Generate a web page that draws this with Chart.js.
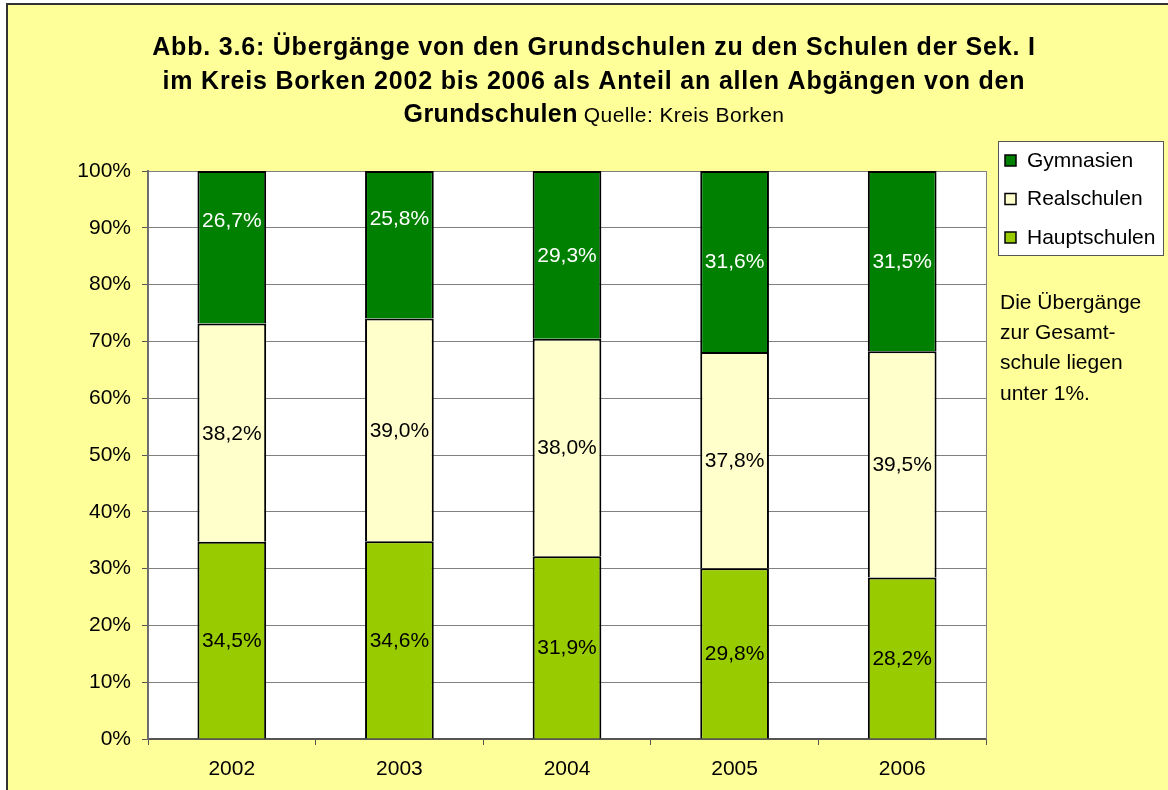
<!DOCTYPE html>
<html><head><meta charset="utf-8">
<script src="https://cdn.jsdelivr.net/npm/chart.js@4.4.1/dist/chart.umd.min.js"></script>
<style>html,body{margin:0;padding:0;background:#fff;}#wrap{width:1168px;height:790px;}</style>
</head><body><div id="wrap"><canvas id="c" width="1168" height="790"></canvas></div>
<script>
const years = ['2002', '2003', '2004', '2005', '2006'];
const hauptschulen = [34.5, 34.6, 31.9, 29.8, 28.2];
const realschulen = [38.2, 39.0, 38.0, 37.8, 39.5];
const gymnasien = [26.7, 25.8, 29.3, 31.6, 31.5];
const seriesNames = ['Hauptschulen', 'Realschulen', 'Gymnasien'];
const titleLines = [
  'Abb. 3.6: Übergänge von den Grundschulen zu den Schulen der Sek. I',
  'im Kreis Borken 2002 bis 2006 als Anteil an allen Abgängen von den'
];
const titleBoldTail = 'Grundschulen';
const titleSource = 'Quelle: Kreis Borken';
const noteLines = ['Die Übergänge', 'zur Gesamt-', 'schule liegen', 'unter 1%.'];

const FONT = '"Liberation Sans", Arial, Helvetica, sans-serif';
const totals = years.map((_, i) => hauptschulen[i] + realschulen[i] + gymnasien[i]);
const norm = arr => arr.map((v, i) => v / totals[i] * 100);
const raw = [hauptschulen, realschulen, gymnasien];
const colors = ['#99CC00', '#FFFFCC', '#008000'];
const labelColors = ['#000000', '#000000', '#FFFFFF'];
// label vertical shift (px) for the top series, as placed in the original
const topLabelShift = [-27, -27, 0, 0, 0];

const frame = {
  id: 'frame',
  beforeDraw(chart) {
    const ctx = chart.ctx, a = chart.chartArea;
    ctx.save();
    ctx.fillStyle = '#ffffff';
    ctx.fillRect(0, 0, chart.width, chart.height);
    ctx.fillStyle = '#FFFF99';
    ctx.fillRect(7, 4, chart.width, chart.height);
    ctx.strokeStyle = '#333333';
    ctx.lineWidth = 2;
    ctx.beginPath();
    ctx.moveTo(7, chart.height + 5); ctx.lineTo(7, 4); ctx.lineTo(chart.width + 5, 4);
    ctx.stroke();
    ctx.fillStyle = '#ffffff';
    ctx.fillRect(a.left, a.top, a.right - a.left, a.bottom - a.top);
    ctx.restore();
  },
  afterDraw(chart) {
    const ctx = chart.ctx, a = chart.chartArea;
    ctx.save();
    // plot right border
    ctx.strokeStyle = '#808080';
    ctx.lineWidth = 1;
    ctx.beginPath();
    ctx.moveTo(a.right + 0.5, a.top); ctx.lineTo(a.right + 0.5, a.bottom);
    ctx.stroke();
    // title
    ctx.fillStyle = '#000';
    ctx.textBaseline = 'middle';
    ctx.textAlign = 'left';
    const cx = 594;
    ctx.font = 'bold 25px ' + FONT;
    ctx.letterSpacing = '0.8px';
    const w1 = ctx.measureText(titleLines[0]).width;
    ctx.fillText(titleLines[0], cx - w1 / 2, 48);
    const w2 = ctx.measureText(titleLines[1]).width;
    ctx.fillText(titleLines[1], cx - w2 / 2, 82);
    ctx.letterSpacing = '0.4px';
    const wB = ctx.measureText(titleBoldTail).width;
    ctx.font = '21px ' + FONT;
    ctx.letterSpacing = '0.4px';
    const wS = ctx.measureText(titleSource).width;
    const gap = 6;
    let x0 = cx - (wB + gap + wS) / 2;
    ctx.font = 'bold 25px ' + FONT;
    ctx.fillText(titleBoldTail, x0, 115);
    ctx.font = '21px ' + FONT;
    ctx.fillText(titleSource, x0 + wB + gap, 116);
    ctx.letterSpacing = '0px';
    // legend
    const lx = 998, ly = 141, lw = 165, lh = 114;
    ctx.fillStyle = '#ffffff';
    ctx.fillRect(lx, ly, lw, lh);
    ctx.strokeStyle = '#555555';
    ctx.lineWidth = 1;
    ctx.strokeRect(lx + 0.5, ly + 0.5, lw, lh);
    const order = [2, 1, 0];
    order.forEach((si, k) => {
      const yy = 160 + k * 38.5;
      ctx.fillStyle = colors[si];
      ctx.fillRect(1005, yy - 5, 11, 11);
      ctx.strokeStyle = '#000';
      ctx.lineWidth = 1.5;
      ctx.strokeRect(1005, yy - 5, 11, 11);
      ctx.fillStyle = '#000';
      ctx.font = '21px ' + FONT;
      ctx.textAlign = 'left';
      ctx.fillText(chart.data.datasets[si].label, 1027, yy + 1);
    });
    // note
    ctx.font = '21px ' + FONT;
    noteLines.forEach((t, k) => ctx.fillText(t, 1000, 303 + k * 30.3));
    ctx.restore();
  },
  afterDatasetsDraw(chart) {
    const ctx = chart.ctx;
    ctx.save();
    ctx.font = '21px ' + FONT;
    ctx.textAlign = 'center';
    ctx.textBaseline = 'middle';
    chart.data.datasets.forEach((ds, si) => {
      const meta = chart.getDatasetMeta(si);
      meta.data.forEach((el, i) => {
        const v = raw[si][i];
        const txt = v.toFixed(1).replace('.', ',') + '%';
        let y = (el.y + el.base) / 2 + 1;
        if (si === 2) y += topLabelShift[i];
        ctx.fillStyle = labelColors[si];
        ctx.fillText(txt, el.x, y);
      });
    });
    ctx.restore();
  }
};

new Chart(document.getElementById('c'), {
  type: 'bar',
  data: {
    labels: years,
    datasets: raw.map((arr, si) => ({
      label: seriesNames[si],
      data: norm(arr),
      backgroundColor: colors[si],
      borderColor: '#000000',
      borderWidth: 2,
      categoryPercentage: 1,
      barPercentage: 0.41
    }))
  },
  options: {
    responsive: false,
    devicePixelRatio: 1,
    animation: false,
    layout: { padding: { left: 7, top: 171, right: 182, bottom: 0 } },
    plugins: { legend: { display: false }, title: { display: false }, tooltip: { enabled: false } },
    scales: {
      x: {
        stacked: true,
        grid: { offset: true, drawOnChartArea: false, drawTicks: true, tickLength: 6, color: '#555555', tickColor: '#555555' },
        border: { color: '#555555', width: 2 },
        ticks: { color: '#000', font: { family: FONT, size: 21 }, padding: 12 },
        afterFit(s) { s.height = 51; }
      },
      y: {
        stacked: true,
        min: 0, max: 100,
        grid: { color: '#808080', lineWidth: 1, tickLength: 6, tickColor: '#555555' },
        border: { color: '#6e6e6e', width: 2 },
        ticks: { stepSize: 10, color: '#000', font: { family: FONT, size: 21 }, padding: 11,
                 callback: v => v + '%' },
        afterFit(s) { s.width = 141; }
      }
    }
  },
  plugins: [frame]
});
</script></body></html>
